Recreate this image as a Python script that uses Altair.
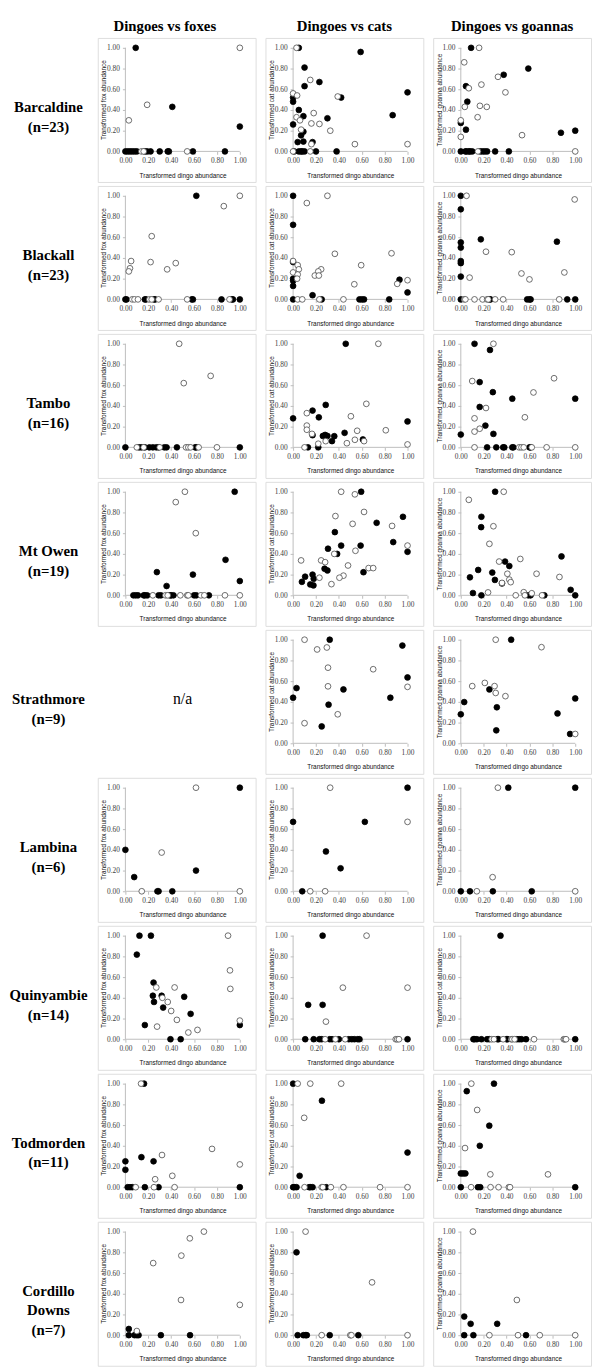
import altair as alt
import pandas as pd

# ---------------- data (x = transformed dingo abundance, y = transformed predator/goanna abundance)
column_titles = ["Dingoes vs foxes", "Dingoes vs cats", "Dingoes vs goannas"]
site_labels = ["Barcaldine\n(n=23)", "Blackall\n(n=23)", "Tambo\n(n=16)", "Mt Owen\n(n=19)",
               "Strathmore\n(n=9)", "Lambina\n(n=6)", "Quinyambie\n(n=14)", "Todmorden\n(n=11)",
               "Cordillo\nDowns\n(n=7)"]
tick_values = [0.0, 0.2, 0.4, 0.6, 0.8, 1.0]

# Barcaldine
bar_fox_f = [(0.09, 1.00), (0.41, 0.43), (1.00, 0.24)]
bar_fox_f0 = [0.00, 0.02, 0.04, 0.06, 0.08, 0.10, 0.17, 0.19, 0.22, 0.30, 0.37, 0.38, 0.59, 0.87]
bar_fox_o = [(1.00, 1.00), (0.19, 0.45), (0.03, 0.30)]
bar_fox_o0 = [0.14, 0.16, 0.54]
bar_cat_f = [(0.05, 1.00), (0.59, 0.96), (0.10, 0.81), (0.23, 0.67), (0.10, 0.63), (1.00, 0.57), (0.00, 0.52),
             (0.00, 0.48), (0.42, 0.52), (0.05, 0.40), (0.09, 0.34), (0.30, 0.32), (0.87, 0.35), (0.00, 0.26),
             (0.09, 0.19), (0.07, 0.155), (0.04, 0.09), (0.09, 0.095), (0.17, 0.09)]
bar_cat_f0 = [0.01, 0.05, 0.07, 0.08, 0.10, 0.20, 0.38]
bar_cat_o = [(0.03, 1.00), (0.15, 0.69), (0.00, 0.56), (0.035, 0.54), (0.39, 0.53), (0.18, 0.37), (0.03, 0.33),
             (0.06, 0.30), (0.16, 0.27), (0.23, 0.265), (0.07, 0.21), (0.325, 0.20), (0.16, 0.07), (0.54, 0.07),
             (1.00, 0.07)]
bar_cat_o0 = [0.00, 0.15]
bar_goa_f = [(0.09, 1.00), (0.59, 0.80), (0.375, 0.74), (0.045, 0.63), (0.057, 0.48), (0.00, 0.275),
             (0.045, 0.21), (0.875, 0.18), (1.00, 0.20)]
bar_goa_f0 = [0.00, 0.04, 0.05, 0.07, 0.08, 0.10, 0.17, 0.19, 0.21, 0.23, 0.30, 0.42]
bar_goa_o = [(0.16, 1.00), (0.03, 0.86), (0.325, 0.72), (0.18, 0.645), (0.07, 0.61), (0.39, 0.57), (0.035, 0.43),
             (0.167, 0.44), (0.227, 0.43), (0.147, 0.33), (0.00, 0.30), (0.00, 0.14), (0.535, 0.157)]
bar_goa_o0 = [0.15, 1.00]

# Blackall
bla_fox_f = [(0.62, 1.00)]
bla_fox_f0 = [0.00, 0.01, 0.17, 0.18, 0.25, 0.26, 0.58, 0.59, 0.84, 0.93, 0.94, 1.00]
bla_fox_o = [(1.00, 1.00), (0.86, 0.90), (0.23, 0.61), (0.05, 0.37), (0.22, 0.36), (0.44, 0.35), (0.365, 0.29),
             (0.04, 0.30), (0.03, 0.27)]
bla_fox_o0 = [0.06, 0.08, 0.11, 0.21, 0.23, 0.29, 0.54, 0.91]
bla_cat_f = [(0.00, 1.00), (0.00, 0.72), (0.00, 0.36), (0.00, 0.20), (0.00, 0.18), (0.00, 0.13), (0.93, 0.19),
             (1.00, 0.067), (0.17, 0.04)]
bla_cat_f0 = [0.00, 0.25, 0.58, 0.60, 0.62, 0.84]
bla_cat_o = [(0.30, 1.00), (0.12, 0.93), (0.86, 0.445), (0.365, 0.44), (0.00, 0.37), (0.595, 0.33), (0.04, 0.33),
             (0.05, 0.29), (0.245, 0.29), (0.22, 0.27), (0.00, 0.26), (0.04, 0.24), (0.19, 0.23), (0.225, 0.23),
             (0.035, 0.20), (0.535, 0.146), (0.91, 0.15), (1.00, 0.185)]
bla_cat_o0 = [0.04, 0.08, 0.23, 0.44]
bla_goa_f = [(0.00, 1.00), (0.00, 0.87), (0.175, 0.58), (0.00, 0.55), (0.00, 0.50), (0.84, 0.557), (0.00, 0.37),
             (0.00, 0.35), (0.00, 0.22)]
bla_goa_f0 = [0.00, 0.25, 0.26, 0.58, 0.60, 0.61, 0.93, 1.00]
bla_goa_o = [(0.05, 1.00), (0.995, 0.965), (0.22, 0.46), (0.445, 0.456), (0.905, 0.26), (0.53, 0.25),
             (0.077, 0.21), (0.60, 0.193)]
bla_goa_o0 = [0.03, 0.04, 0.12, 0.19, 0.23, 0.24, 0.30, 0.37, 0.86]

# Tambo
tam_fox_f = []
tam_fox_f0 = [0.00, 0.12, 0.14, 0.17, 0.21, 0.24, 0.27, 0.29, 0.34, 0.36, 0.45, 0.61, 0.62, 1.00]
tam_fox_o = [(0.47, 1.00), (0.51, 0.62), (0.745, 0.69)]
tam_fox_o0 = [0.10, 0.16, 0.30, 0.53, 0.55, 0.57, 0.64, 0.80]
tam_cat_f = [(0.46, 1.00), (0.285, 0.41), (0.17, 0.355), (0.225, 0.29), (0.00, 0.28), (1.00, 0.25), (0.45, 0.14),
             (0.17, 0.117), (0.26, 0.11), (0.28, 0.12), (0.30, 0.11), (0.36, 0.108), (0.34, 0.06), (0.61, 0.076)]
tam_cat_f0 = [0.13, 0.22]
tam_cat_o = [(0.745, 1.00), (0.64, 0.42), (0.12, 0.33), (0.505, 0.30), (0.12, 0.21), (0.12, 0.17), (0.81, 0.165),
             (0.56, 0.16), (0.165, 0.13), (0.285, 0.06), (0.54, 0.073), (0.62, 0.06), (0.47, 0.04), (0.22, 0.035),
             (1.00, 0.028)]
tam_cat_o0 = [0.10]
tam_goa_f = [(0.12, 1.00), (0.255, 0.94), (0.165, 0.63), (0.28, 0.533), (0.45, 0.47), (1.00, 0.47), (0.165, 0.39),
             (0.215, 0.21), (0.285, 0.13), (0.00, 0.124)]
tam_goa_f0 = [0.23, 0.31, 0.37, 0.38, 0.45, 0.46, 0.60, 0.61]
tam_goa_o = [(0.285, 1.00), (0.815, 0.667), (0.10, 0.64), (0.635, 0.53), (0.22, 0.38), (0.56, 0.29), (0.12, 0.28),
             (0.165, 0.18), (0.12, 0.152)]
tam_goa_o0 = [0.12, 0.51, 0.53, 0.55, 0.62, 0.75, 1.00]

# Mt Owen
mto_fox_f = [(0.955, 1.00), (0.875, 0.343), (0.275, 0.224), (0.59, 0.20), (1.00, 0.138), (0.36, 0.09)]
mto_fox_f0 = [0.07, 0.09, 0.11, 0.16, 0.17, 0.19, 0.29, 0.31, 0.39, 0.40, 0.42, 0.60, 0.62, 0.73]
mto_fox_o = [(0.52, 1.00), (0.44, 0.90), (0.615, 0.60)]
mto_fox_o0 = [0.24, 0.35, 0.37, 0.48, 0.54, 0.55, 0.66, 0.69, 0.87, 1.00]
mto_cat_f = [(0.595, 1.00), (0.96, 0.758), (0.73, 0.70), (0.365, 0.61), (0.875, 0.514), (0.42, 0.48), (0.59, 0.48),
             (0.305, 0.45), (1.00, 0.42), (0.385, 0.40), (0.275, 0.257), (0.30, 0.24), (0.615, 0.223), (0.17, 0.20),
             (0.105, 0.18), (0.18, 0.16), (0.077, 0.13), (0.15, 0.105), (0.178, 0.096)]
mto_cat_f0 = []
mto_cat_o = [(0.42, 1.00), (0.54, 0.975), (0.62, 0.805), (0.37, 0.765), (0.52, 0.69), (0.865, 0.67), (1.00, 0.48),
             (0.545, 0.43), (0.36, 0.40), (0.07, 0.337), (0.245, 0.337), (0.28, 0.32), (0.48, 0.288), (0.66, 0.263),
             (0.70, 0.263), (0.44, 0.19), (0.405, 0.17), (0.23, 0.17), (0.335, 0.108)]
mto_cat_o0 = []
mto_goa_f = [(0.30, 1.00), (0.18, 0.758), (0.178, 0.658), (0.88, 0.376), (0.387, 0.326), (0.424, 0.283),
             (0.152, 0.245), (0.275, 0.22), (0.08, 0.174), (0.298, 0.149), (0.36, 0.115), (0.106, 0.022),
             (0.96, 0.053)]
mto_goa_f0 = [0.18, 0.59, 0.61, 0.73, 1.00]
mto_goa_o = [(0.375, 1.00), (0.07, 0.922), (0.285, 0.667), (0.25, 0.497), (0.52, 0.351), (0.335, 0.326),
             (0.407, 0.208), (0.662, 0.208), (0.862, 0.177), (0.424, 0.152), (0.436, 0.127), (0.36, 0.12),
             (0.238, 0.028), (0.55, 0.03), (0.62, 0.02)]
mto_goa_o0 = [0.48, 0.56, 0.71]

# Strathmore (no fox data)
str_cat_f = [(0.32, 1.00), (0.955, 0.944), (1.00, 0.636), (0.03, 0.533), (0.44, 0.52), (0.00, 0.44), (0.85, 0.44),
             (0.31, 0.373), (0.25, 0.163)]
str_cat_f0 = []
str_cat_o = [(0.10, 1.00), (0.21, 0.906), (0.295, 0.925), (0.305, 0.73), (0.70, 0.715), (0.305, 0.55),
             (1.00, 0.545), (0.39, 0.28), (0.10, 0.194)]
str_cat_o0 = []
str_goa_f = [(0.44, 1.00), (0.25, 0.52), (1.00, 0.433), (0.03, 0.398), (0.315, 0.348), (0.845, 0.288),
             (0.00, 0.28), (0.31, 0.125), (0.955, 0.09)]
str_goa_f0 = []
str_goa_o = [(0.305, 1.00), (0.705, 0.928), (0.21, 0.583), (0.10, 0.552), (0.295, 0.552), (0.305, 0.486),
             (0.39, 0.455), (1.00, 0.09)]
str_goa_o0 = []

# Lambina
lam_fox_f = [(1.00, 1.00), (0.00, 0.40), (0.077, 0.137), (0.617, 0.20)]
lam_fox_f0 = [0.28, 0.29, 0.41]
lam_fox_o = [(0.617, 1.00), (0.317, 0.374)]
lam_fox_o0 = [0.143, 1.00]
lam_cat_f = [(1.00, 1.00), (0.00, 0.67), (0.627, 0.67), (0.287, 0.384), (0.415, 0.222)]
lam_cat_f0 = [0.08]
lam_cat_o = [(0.324, 1.00), (1.00, 0.67)]
lam_cat_o0 = [0.15, 0.28]
lam_goa_f = [(0.415, 1.00), (1.00, 1.00)]
lam_goa_f0 = [0.00, 0.08, 0.28, 0.62]
lam_goa_o = [(0.324, 1.00), (0.278, 0.136)]
lam_goa_o0 = [0.14, 1.00]

# Quinyambie
qui_fox_f = [(0.123, 1.00), (0.223, 1.00), (0.10, 0.817), (0.246, 0.547), (0.24, 0.42), (0.317, 0.42),
             (0.514, 0.41), (0.25, 0.36), (0.33, 0.306), (0.57, 0.245), (0.17, 0.137), (1.00, 0.137)]
qui_fox_f0 = [0.394, 0.483]
qui_fox_o = [(0.897, 1.00), (0.914, 0.665), (0.27, 0.50), (0.43, 0.50), (0.917, 0.486), (0.323, 0.40),
             (0.37, 0.36), (0.40, 0.273), (0.45, 0.187), (0.277, 0.122), (1.00, 0.18), (0.63, 0.09), (0.55, 0.065)]
qui_fox_o0 = []
qui_cat_f = [(0.258, 1.00), (0.132, 0.332), (0.258, 0.332)]
qui_cat_f0 = [0.106, 0.18, 0.23, 0.25, 0.32, 0.34, 0.40, 0.487, 0.513, 0.536, 0.565, 0.58, 1.00]
qui_cat_o = [(0.642, 1.00), (0.435, 0.498), (1.00, 0.498), (0.287, 0.17)]
qui_cat_o0 = [0.28, 0.37, 0.455, 0.897, 0.91, 0.925]
qui_goa_f = [(0.347, 1.00)]
qui_goa_f0 = [0.11, 0.12, 0.14, 0.18, 0.23, 0.25, 0.32, 0.33, 0.40, 0.41, 0.49, 0.51, 0.53, 0.57, 1.00]
qui_goa_o = []
qui_goa_o0 = [0.27, 0.29, 0.37, 0.44, 0.45, 0.47, 0.64, 0.90, 0.91, 0.92]

# Todmorden
tod_fox_f = [(0.163, 1.00), (0.14, 0.29), (0.00, 0.25), (0.246, 0.25), (0.00, 0.168)]
tod_fox_f0 = [0.02, 0.04, 0.06, 0.17, 0.29, 1.00]
tod_fox_o = [(0.137, 1.00), (0.757, 0.37), (0.32, 0.311), (1.00, 0.22), (0.41, 0.11), (0.26, 0.077)]
tod_fox_o0 = [0.09, 0.25, 0.43]
tod_cat_f = [(0.00, 1.00), (0.252, 0.835), (1.00, 0.335), (0.057, 0.11)]
tod_cat_f0 = [0.00, 0.01, 0.03, 0.14, 0.15, 0.17, 0.29]
tod_cat_o = [(0.04, 1.00), (0.15, 1.00), (0.42, 1.00), (0.097, 0.67)]
tod_cat_o0 = [0.10, 0.25, 0.26, 0.33, 0.44, 0.76, 1.00]
tod_goa_f = [(0.29, 1.00), (0.052, 0.927), (0.249, 0.594), (0.166, 0.40), (0.00, 0.133), (0.02, 0.133),
             (0.04, 0.133)]
tod_goa_f0 = [0.00, 0.15, 0.17, 1.00]
tod_goa_o = [(0.092, 1.00), (0.143, 0.746), (0.037, 0.378), (0.258, 0.124), (0.762, 0.124)]
tod_goa_o0 = [0.09, 0.26, 0.33, 0.42, 0.43]

# Cordillo Downs
cor_fox_f = [(0.03, 0.06)]
cor_fox_f0 = [0.03, 0.08, 0.10, 0.115, 0.31, 0.565]
cor_fox_o = [(0.686, 1.00), (0.563, 0.935), (0.489, 0.768), (0.243, 0.696), (0.486, 0.34), (1.00, 0.293),
             (0.10, 0.04)]
cor_fox_o0 = []
cor_cat_f = [(0.03, 0.80)]
cor_cat_f0 = [0.04, 0.09, 0.11, 0.12, 0.32, 0.57]
cor_cat_o = [(0.109, 1.00), (0.69, 0.51)]
cor_cat_o0 = [0.25, 0.50, 0.51, 1.00]
cor_goa_f = [(0.03, 0.18), (0.086, 0.11), (0.318, 0.11)]
cor_goa_f0 = [0.03, 0.11, 0.57]
cor_goa_o = [(0.106, 1.00), (0.49, 0.34)]
cor_goa_o0 = [0.25, 0.50, 0.69, 1.00]

FOX_T = "Transformed fox abundance"
CAT_T = "Transformed cat abundance"
GOA_T = "Transformed goanna abundance"

rows_spec = [
    [(bar_fox_f, bar_fox_f0, bar_fox_o, bar_fox_o0, FOX_T), (bar_cat_f, bar_cat_f0, bar_cat_o, bar_cat_o0, CAT_T),
     (bar_goa_f, bar_goa_f0, bar_goa_o, bar_goa_o0, GOA_T)],
    [(bla_fox_f, bla_fox_f0, bla_fox_o, bla_fox_o0, FOX_T), (bla_cat_f, bla_cat_f0, bla_cat_o, bla_cat_o0, CAT_T),
     (bla_goa_f, bla_goa_f0, bla_goa_o, bla_goa_o0, GOA_T)],
    [(tam_fox_f, tam_fox_f0, tam_fox_o, tam_fox_o0, FOX_T), (tam_cat_f, tam_cat_f0, tam_cat_o, tam_cat_o0, CAT_T),
     (tam_goa_f, tam_goa_f0, tam_goa_o, tam_goa_o0, GOA_T)],
    [(mto_fox_f, mto_fox_f0, mto_fox_o, mto_fox_o0, FOX_T), (mto_cat_f, mto_cat_f0, mto_cat_o, mto_cat_o0, CAT_T),
     (mto_goa_f, mto_goa_f0, mto_goa_o, mto_goa_o0, GOA_T)],
    [None, (str_cat_f, str_cat_f0, str_cat_o, str_cat_o0, CAT_T),
     (str_goa_f, str_goa_f0, str_goa_o, str_goa_o0, GOA_T)],
    [(lam_fox_f, lam_fox_f0, lam_fox_o, lam_fox_o0, FOX_T), (lam_cat_f, lam_cat_f0, lam_cat_o, lam_cat_o0, CAT_T),
     (lam_goa_f, lam_goa_f0, lam_goa_o, lam_goa_o0, GOA_T)],
    [(qui_fox_f, qui_fox_f0, qui_fox_o, qui_fox_o0, FOX_T), (qui_cat_f, qui_cat_f0, qui_cat_o, qui_cat_o0, CAT_T),
     (qui_goa_f, qui_goa_f0, qui_goa_o, qui_goa_o0, CAT_T)],
    [(tod_fox_f, tod_fox_f0, tod_fox_o, tod_fox_o0, FOX_T), (tod_cat_f, tod_cat_f0, tod_cat_o, tod_cat_o0, CAT_T),
     (tod_goa_f, tod_goa_f0, tod_goa_o, tod_goa_o0, GOA_T)],
    [(cor_fox_f, cor_fox_f0, cor_fox_o, cor_fox_o0, FOX_T), (cor_cat_f, cor_cat_f0, cor_cat_o, cor_cat_o0, CAT_T),
     (cor_goa_f, cor_goa_f0, cor_goa_o, cor_goa_o0, GOA_T)],
]

# ---------------- layout / style
W, H = 160, 146
LABEL_W = 80
HEADER_H = 16
X0_PX, UNIT_X = 28, 116
Y1_PX, UNIT_Y = 10, 105
X_DOM = [-X0_PX / UNIT_X, (W - X0_PX) / UNIT_X]
Y_DOM = [-(H - Y1_PX - UNIT_Y) / UNIT_Y, 1 + Y1_PX / UNIT_Y]
AX_GRAY = "#bdbdbd"
BOX_GRAY = "#cccccc"
SERIF = "Liberation Serif"
SANS = "Liberation Sans"
HEADER_X = [68, W / 2, W / 2]

xs = alt.Scale(domain=X_DOM, nice=False, zero=False)
ys = alt.Scale(domain=Y_DOM, nice=False, zero=False)
x_off = H - Y1_PX - UNIT_Y


def x_axis():
    return alt.Axis(values=tick_values, format=".2f", title="Transformed dingo abundance",
                    offset=-x_off, domain=False, grid=False, tickSize=3, tickColor=AX_GRAY,
                    labelPadding=2, labelFont=SERIF, labelFontSize=7.5, labelColor="#404040",
                    labelFlush=False, labelOverlap=False, labelBound=False,
                    titleFont=SANS, titleFontSize=6.5, titleFontWeight="normal", titleColor="#111111",
                    titleX=X0_PX + UNIT_X / 2, titleY=24, titleBaseline="middle", titleAlign="center")


def y_axis(title):
    return alt.Axis(values=tick_values, format=".2f", title=title,
                    offset=-X0_PX, domain=False, grid=False, tickSize=3, tickColor=AX_GRAY,
                    labelPadding=3, labelFont=SERIF, labelFontSize=7.5, labelColor="#404040",
                    labelFlush=False, labelOverlap=False, labelBound=False,
                    titleFont=SANS, titleFontSize=6.5, titleFontWeight="normal", titleColor="#111111",
                    titleX=-(X0_PX - 6), titleY=Y1_PX + UNIT_Y / 2, titleAngle=270,
                    titleBaseline="middle", titleAlign="center")


def panel(filled, filled0, opened, opened0, ytitle):
    recs = ([{"x": a, "y": b, "kind": "filled"} for a, b in filled] +
            [{"x": a, "y": 0.0, "kind": "filled"} for a in filled0] +
            [{"x": a, "y": b, "kind": "open"} for a, b in opened] +
            [{"x": a, "y": 0.0, "kind": "open"} for a in opened0])
    df = pd.DataFrame(recs)
    xline = alt.Chart(pd.DataFrame({"x": [0.0], "x2": [1.0], "y": [0.0]})).mark_rule(
        color=AX_GRAY, strokeWidth=1).encode(
        x=alt.X("x:Q", scale=xs, axis=x_axis()), x2="x2:Q",
        y=alt.Y("y:Q", scale=ys, axis=y_axis(ytitle)))
    yline = alt.Chart(pd.DataFrame({"x": [0.0], "y": [0.0], "y2": [1.0]})).mark_rule(
        color=AX_GRAY, strokeWidth=1).encode(
        x=alt.X("x:Q", scale=xs, axis=x_axis()),
        y=alt.Y("y:Q", scale=ys, axis=y_axis(ytitle)), y2="y2:Q")
    pts = alt.Chart(df).mark_point(shape="circle", filled=True, size=34, strokeWidth=0.8, opacity=1).encode(
        x=alt.X("x:Q", scale=xs, axis=x_axis()),
        y=alt.Y("y:Q", scale=ys, axis=y_axis(ytitle)),
        fill=alt.Fill("kind:N", scale=alt.Scale(domain=["filled", "open"], range=["#000000", "#ffffff"]),
                      legend=None),
        stroke=alt.Stroke("kind:N", scale=alt.Scale(domain=["filled", "open"], range=["#000000", "#4a4a4a"]),
                          legend=None),
    )
    return alt.layer(xline, yline, pts).properties(width=W, height=H)


def text_box(text, width, height, x, y, size, weight, line_h=20):
    return alt.Chart(pd.DataFrame({"t": [text]})).mark_text(
        font=SERIF, fontSize=size, fontWeight=weight, color="#000000", lineBreak="\n",
        lineHeight=line_h, align="center", baseline="middle").encode(
        text="t:N", x=alt.value(x), y=alt.value(y)).properties(
        width=width, height=height, view=alt.ViewBackground(stroke="transparent"))


header = alt.hconcat(
    text_box(" ", LABEL_W, HEADER_H, 40, 8, 15, "bold", 15),
    *[text_box(t, W, HEADER_H, hx, 8, 15, "bold", 15) for t, hx in zip(column_titles, HEADER_X)],
    spacing=8)

rows = [header]
for label, spec in zip(site_labels, rows_spec):
    cells = [text_box(label, LABEL_W, H, 40, H / 2 - 3, 15, "bold")]
    for p in spec:
        if p is None:
            cells.append(text_box("n/a", W, H, X0_PX + UNIT_X / 2, H / 2 - 3, 16, "normal", 16))
        else:
            cells.append(panel(*p))
    rows.append(alt.hconcat(*cells, spacing=8))

chart = alt.vconcat(*rows, spacing=2).properties(
    padding={"left": 0, "top": 0, "right": 0, "bottom": 0}).configure_view(
    stroke=BOX_GRAY, strokeWidth=1).configure(background="#ffffff")

chart.save("out.html", embed_options={"renderer": "svg", "actions": False})
